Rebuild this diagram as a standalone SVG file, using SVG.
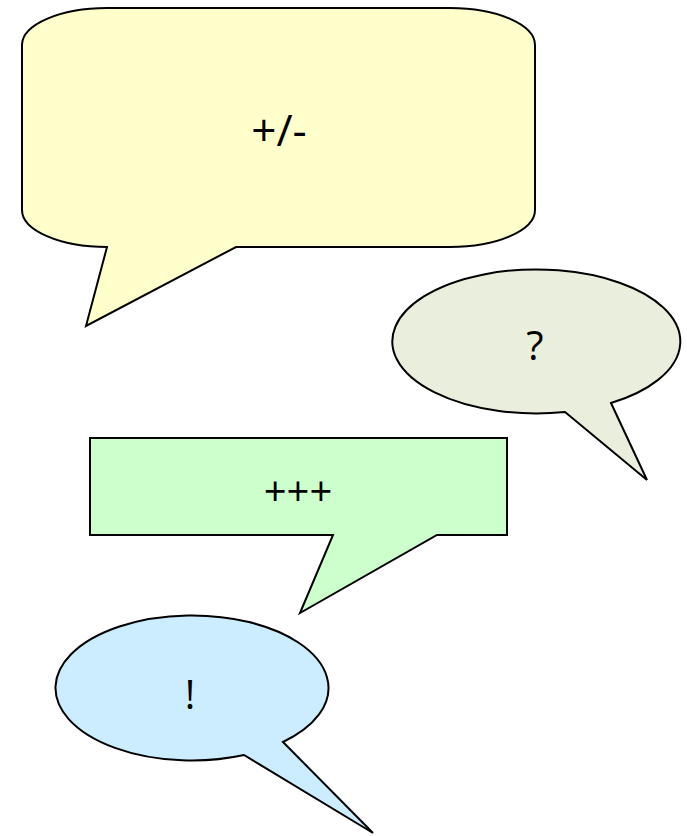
<svg xmlns="http://www.w3.org/2000/svg" width="687" height="836" viewBox="0 0 687 836">
<style>
.shape{stroke:#000;stroke-width:2;stroke-linejoin:miter}
.lbl{font-family:"Open Sans","Noto Sans","Liberation Sans",sans-serif;font-size:40px;fill:#000;text-anchor:middle}
</style>
<rect width="687" height="836" fill="#fff"/>
<g id="callout-yellow">
<path class="shape" fill="#FFFFCC" d="M107 247 L86 326 L236 247 L450 247 A85 37 0 0 0 535 210 L535 45 A85 37 0 0 0 450 8 L107 8 A85 37 0 0 0 22 45 L22 210 A85 37 0 0 0 107 247 Z"/>
<text class="lbl" x="279" y="146" style="font-size:44px">+/-</text>
</g>
<g id="callout-question">
<path class="shape" fill="#EAEEDC" d="M611 403 L647 480 L565 412 A144 72 0 1 1 611 403 Z"/>
<text class="lbl" x="535" y="360">?</text>
</g>
<g id="callout-green">
<path class="shape" fill="#CCFFCC" d="M90 438 L507 438 L507 535 L437 535 L300 613 L333 535 L90 535 Z"/>
<text class="lbl" x="298" y="506">+++</text>
</g>
<g id="callout-blue">
<path class="shape" fill="#CCECFF" d="M283 742 L373 833 L244 755 A136.5 72.5 0 1 1 283 742 Z"/>
<text class="lbl" x="190" y="709">!</text>
</g>
<g id="connectors"/>
</svg>
